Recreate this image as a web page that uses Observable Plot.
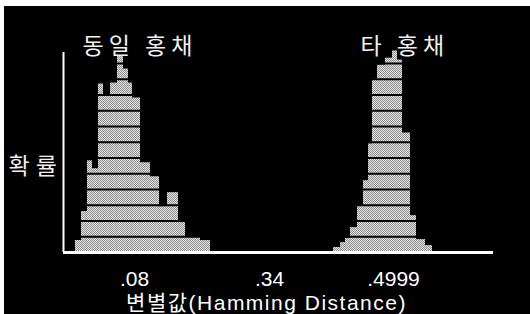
<!DOCTYPE html>
<html>
<head>
<meta charset="utf-8">
<script src="https://cdn.jsdelivr.net/npm/d3@7"></script>
<script src="https://cdn.jsdelivr.net/npm/@observablehq/plot@0.6"></script>
<style>
  html, body { margin: 0; padding: 0; background: #ffffff; width: 530px; height: 314px; overflow: hidden; }
  #chart { position: absolute; left: 4px; top: 6px; }
</style>
</head>
<body>
<div id="chart"></div>
<script>
// ---- data ----
const xDomainPoints = [0, 0.08, 0.34, 0.4999, 0.6];
const xTickValues = [0.08, 0.34, 0.4999];
const xTickLabels = [".08", ".34", ".4999"];
const yGridValues = [0.01, 0.02, 0.03, 0.04, 0.05, 0.06, 0.07, 0.08, 0.09, 0.10, 0.11, 0.12];

// 동일 홍채 (same iris) histogram: bin edges (Hamming distance) and probability
const sameEdges = [0.0135, 0.0203, 0.0270, 0.0327, 0.0394, 0.0451, 0.0530, 0.0608, 0.0676, 0.0732,
                   0.0777, 0.0916, 0.1108, 0.1282, 0.1436, 0.1647, 0.1782, 0.2071, 0.2264];
const sameProb  = [0.0076, 0.026, 0.0582, 0.0532, 0.107, 0.0994, 0.1076, 0.1247, 0.1165,
                   0.1076, 0.0981, 0.057, 0.0481, 0.0291, 0.038, 0.019, 0.0101, 0.0076];

// 타 홍채 (different iris) histogram
const diffEdges = [0.4225, 0.4316, 0.4380, 0.4444, 0.4535, 0.4612, 0.4677, 0.4728, 0.4793,
                   0.4896, 0.4986, 0.5039, 0.5089, 0.5169, 0.5229, 0.5319, 0.5389];
const diffProb  = [0.0032, 0.0063, 0.0089, 0.0158, 0.0297, 0.0456, 0.069, 0.1101, 0.119,
                   0.1234, 0.128, 0.1222, 0.0759, 0.0234, 0.0082, 0.0044];

const sameLabel = "동일 홍채";
const diffLabel = "타 홍채";
const yLabel = "확률";
const xLabel = "변별값(Hamming Distance)";

// ---- build tables ----
function bins(edges, probs) {
  return probs.map((p, i) => ({x1: edges[i], x2: edges[i + 1], p}));
}
const bars = bins(sameEdges, sameProb).concat(bins(diffEdges, diffProb));

const font = "'Liberation Sans', Arial, 'Noto Sans CJK KR', sans-serif";
const cjk = "'Noto Sans CJK KR', sans-serif";

const chart = Plot.plot({
  width: 526,
  height: 308,
  marginLeft: 59,
  marginRight: 37,
  marginTop: 46,
  marginBottom: 62,
  style: {background: "black", color: "white", fontFamily: font},
  x: {type: "linear", domain: xDomainPoints, range: [59, 130, 265, 389, 489], axis: null},
  y: {domain: [0, 0.127], axis: null},
  marks: [
    Plot.rectY(bars, {x1: "x1", x2: "x2", y: "p", fill: "url(#halftone)", insetLeft: 0, insetRight: 0}),
    Plot.ruleY(yGridValues, {stroke: "black", strokeWidth: 2}),
    Plot.ruleX([0], {y1: 0, y2: 0.127, stroke: "white", strokeWidth: 2}),
    Plot.ruleY([0], {x1: 0, x2: 0.6, stroke: "white", strokeWidth: 3}),
    Plot.text(xTickValues, {x: d => d, y: 0, text: (d, i) => xTickLabels[i], dy: 33.5,
      lineAnchor: "bottom", fontSize: 21, fill: "white"}),
    Plot.text([xLabel], {frameAnchor: "bottom", text: d => d, dx: -12, dy: 57.5,
      lineAnchor: "bottom", fontSize: 21, fill: "white"}),
    Plot.text([sameLabel], {frameAnchor: "top-left", text: d => d, dx: 19, dy: 1,
      lineAnchor: "bottom", textAnchor: "start", fontSize: 23, fill: "#f0f0f0", fontFamily: cjk}),
    Plot.text([diffLabel], {frameAnchor: "top-left", text: d => d, dx: 297, dy: 1,
      lineAnchor: "bottom", textAnchor: "start", fontSize: 23, fill: "#f0f0f0", fontFamily: cjk}),
    Plot.text([yLabel], {frameAnchor: "top-left", text: d => d, dx: -55, dy: 121,
      lineAnchor: "bottom", textAnchor: "start", fontSize: 23, fill: "#f0f0f0", fontFamily: cjk})
  ]
});

// letter spacing of the labels (not a Plot text option)
const spacing = {[sameLabel]: "5px", [diffLabel]: "5px", [yLabel]: "6px", [xLabel]: "1.5px"};
chart.querySelectorAll("text").forEach(t => {
  const s = spacing[t.textContent];
  if (s) t.setAttribute("letter-spacing", s);
});

// halftone-like fill pattern for the bars
const ns = "http://www.w3.org/2000/svg";
const defs = document.createElementNS(ns, "defs");
defs.innerHTML = '<pattern id="halftone" width="2" height="2" patternUnits="userSpaceOnUse">' +
  '<rect width="2" height="2" fill="#e6e6e6"/>' +
  '<rect x="0" y="0" width="1" height="1" fill="#8c8c8c"/>' +
  '<rect x="1" y="1" width="1" height="1" fill="#8c8c8c"/></pattern>';
chart.insertBefore(defs, chart.firstChild);
document.getElementById("chart").appendChild(chart);
</script>
</body>
</html>
